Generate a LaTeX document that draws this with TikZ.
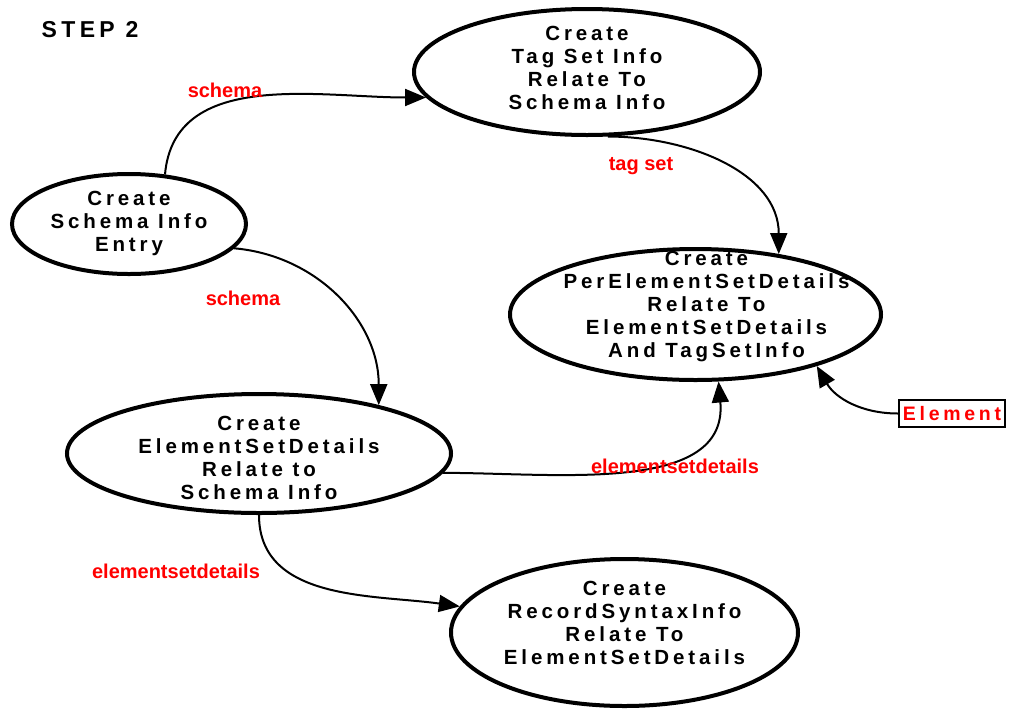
\documentclass[tikz,border=0pt]{standalone}
\usepackage{fontspec}
\setmainfont{Liberation Sans}
\newfontfamily\spacedfont{Liberation Sans}[LetterSpace=19]
\usetikzlibrary{shapes.geometric,arrows.meta}
\tikzset{
  stage/.style={ellipse, draw, line width=4pt, inner sep=0pt},
  stagetext/.style={align=center, inner sep=0pt, font=\fontsize{20.5}{23}\spacedfont\bfseries},
  flow/.style={line width=2pt, -{Triangle[length=21pt,width=17pt]}},
  flowlabel/.style={text=red, inner sep=0pt, font=\fontsize{20}{23}\selectfont\bfseries},
}
\begin{document}
\begin{tikzpicture}[x=1pt,y=1pt]
\useasboundingbox (0,0) rectangle (1012,-713);

% title
\node[inner sep=0pt, font=\fontsize{23}{26}\spacedfont\bfseries] (title) at (90,-30) {STEP 2};

% stages
\node[stage, minimum width=234, minimum height=100,
  label={[stagetext, yshift=1pt]center:{Create\\Schema Info\\Entry}}] (schema) at (129,-224) {};
\node[stage, minimum width=346, minimum height=126,
  label={[stagetext, yshift=4pt]center:{Create\\Tag Set Info\\Relate To\\Schema Info}}] (tag) at (587,-72) {};
\node[stage, minimum width=371, minimum height=131,
  label={[stagetext, xshift=11pt, yshift=8pt]center:{Create\\PerElementSetDetails\\Relate To\\ElementSetDetails\\And TagSetInfo}}] (perelem) at (695.5,-314.5) {};
\node[stage, minimum width=384, minimum height=119,
  label={[stagetext, yshift=-4pt]center:{Create\\ElementSetDetails\\Relate to\\Schema Info}}] (elemset) at (259,-453.5) {};
\node[stage, minimum width=347, minimum height=147,
  label={[stagetext, yshift=10pt]center:{Create\\RecordSyntaxInfo\\Relate To\\ElementSetDetails}}] (recsyn) at (624.5,-632.5) {};

% input
\node[draw, line width=2pt, text=red, inner xsep=4pt, inner ysep=0pt, minimum height=27pt,
  font=\fontsize{19.5}{23}\spacedfont\bfseries] (element) at (952,-413.5) {Element};

% connectors
\draw[flow] (schema.54) to[out=85,in=180] (tag.189);
\draw[flow] (tag.-72) to[out=0,in=90] (perelem.36);
\draw[flow] (schema.-13) to[out=-5,in=90] (elemset.22);
\draw[flow] (elemset.-6) to[out=0,in=-85] (perelem.-71);
\draw[flow] (elemset.south) to[out=-90,in=172] (recsyn.171);
\draw[flow] (element.west) to[out=180,in=-60] (perelem.-23);

% labels
\node[flowlabel] (l1) at (225,-90) {schema};
\node[flowlabel] (l2) at (641,-166) {tag set};
\node[flowlabel] (l3) at (243,-298) {schema};
\node[flowlabel] (l4) at (675,-466) {elementsetdetails};
\node[flowlabel] (l5) at (176,-571) {elementsetdetails};

\end{tikzpicture}
\end{document}
